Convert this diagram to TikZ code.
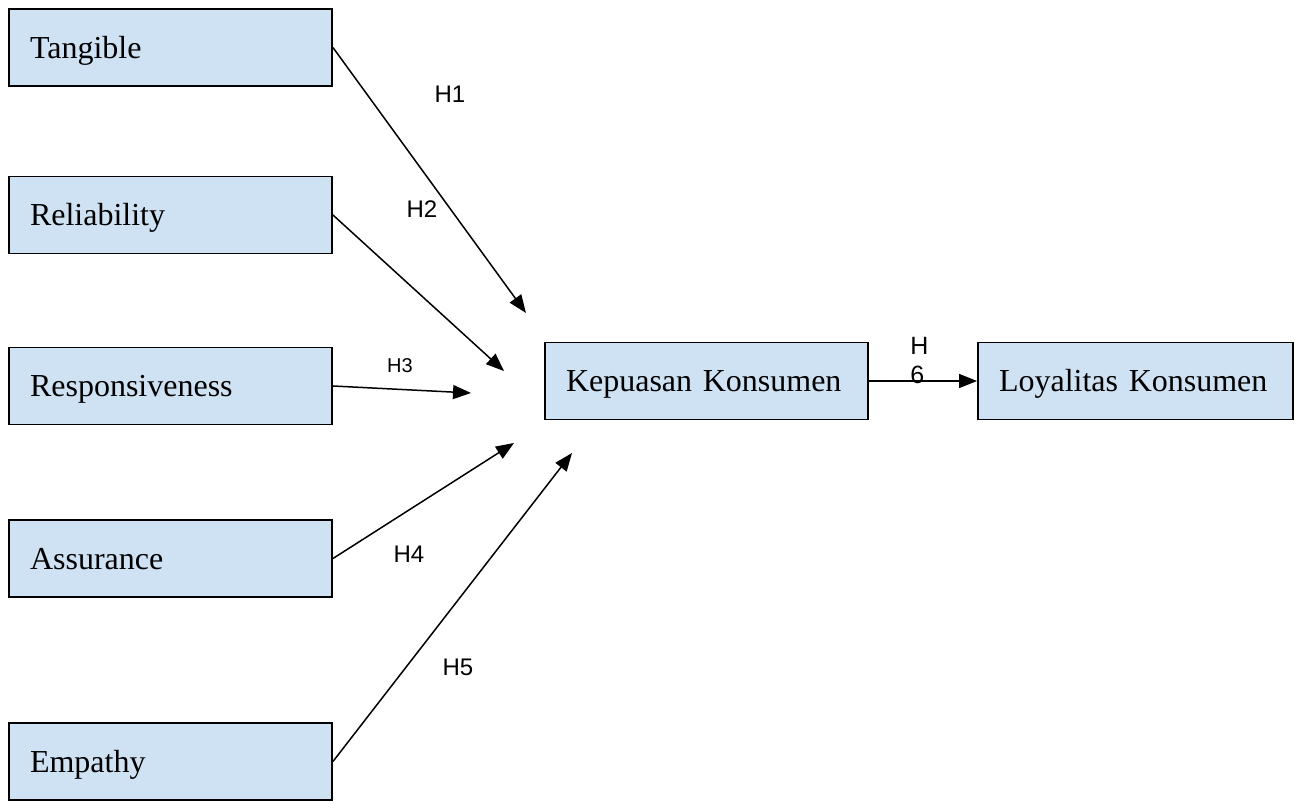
\documentclass[tikz,border=0pt]{standalone}
\usepackage{fontspec}
\setmainfont{Liberation Serif}
\setsansfont{Liberation Sans}
\usetikzlibrary{arrows.meta}
\definecolor{boxfill}{RGB}{207,226,243}
\begin{document}
\begin{tikzpicture}[x=0.5pt,y=-0.5pt,
  var/.style={draw=black, line width=0.95pt, fill=boxfill, minimum height=38.5pt,
    inner xsep=10.5pt, inner ysep=0pt, text width=140.5pt, align=left,
    text height=10.6pt, text depth=0pt,
    font=\fontsize{16}{19}\selectfont},
  conn/.style={line width=0.75pt, -{Triangle[length=9pt,width=7pt]}},
  hlab/.style={font=\sffamily\fontsize{12}{14}\selectfont, inner sep=0pt}]
\useasboundingbox (0,0) rectangle (1294,801);
% variable boxes
\node[var] (tan) at (170.5,47.5) {Tangible};
\node[var] (rel) at (170.5,215) {Reliability};
\node[var] (res) at (170.5,386) {Responsiveness};
\node[var] (ass) at (170.5,558.5) {Assurance};
\node[var] (emp) at (170.5,761.5) {Empathy};
\node[var] (kep) at (706.5,381) {Kepuasan Konsumen};
\node[var, text width=136.5pt] (loy) at (1135.5,381) {Loyalitas Konsumen};
% free arrow tips
\coordinate (t1) at (526,313);
\coordinate (t2) at (504,371);
\coordinate (t3) at (471,393);
\coordinate (t4) at (514,443);
\coordinate (t5) at (572,453);
% connectors
\draw[conn] (tan.east) -- (t1);
\draw[conn] (rel.east) -- (t2);
\draw[conn] (res.east) -- (t3);
\draw[conn] (ass.east) -- (t4);
\draw[conn] (emp.east) -- (t5);
\draw[conn] (kep.east) -- (loy.west);
% labels
\node[hlab] (h1) at (450,94) {H1};
\node[hlab] (h2) at (422,209) {H2};
\node[hlab, font=\sffamily\fontsize{10}{12}\selectfont] (h3) at (400,366) {H3};
\node[hlab] (h4) at (409,554) {H4};
\node[hlab] (h5) at (458,667) {H5};
\node[hlab, font=\sffamily\fontsize{12.5}{14.5}\selectfont, align=left] (h6) at (919.5,361) {H\\6};
\end{tikzpicture}
\end{document}
